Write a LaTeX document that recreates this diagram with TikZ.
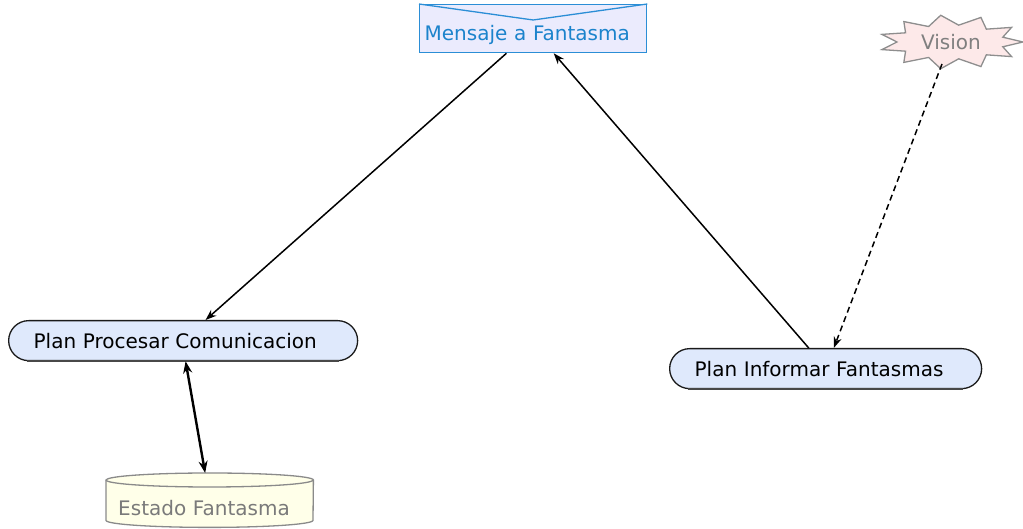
\documentclass[tikz,border=0pt]{standalone}
\usepackage{fontspec}
\setmainfont{DejaVu Sans}
\usetikzlibrary{arrows.meta,calc,backgrounds}
\definecolor{msgfill}{HTML}{EBEBFD}
\definecolor{msgline}{HTML}{2B8ED6}
\definecolor{msgtext}{HTML}{1B83CC}
\definecolor{visfill}{HTML}{FDE9E9}
\definecolor{visline}{HTML}{8E8E8E}
\definecolor{vistext}{HTML}{7F7F7F}
\definecolor{planfill}{HTML}{DFE9FC}
\definecolor{planline}{HTML}{1A1A1A}
\definecolor{estfill}{HTML}{FFFFE9}
\definecolor{estline}{HTML}{8A8A8A}
\definecolor{esttext}{HTML}{7A7A7A}
\tikzset{
  planbox/.style={draw=planline, fill=planfill, line width=1.3pt, rounded corners=20pt,
    inner xsep=25pt, inner ysep=0pt, text height=28pt, text depth=12pt,
    align=left, anchor=north west},
  msgbox/.style={draw=msgline, fill=msgfill, line width=1.3pt, text=msgtext,
    inner xsep=5pt, inner ysep=0pt, text height=36pt, text depth=12pt,
    align=left, anchor=north west},
  estbox/.style={text=esttext, inner xsep=12pt, inner ysep=0pt,
    text height=42pt, text depth=12pt, align=left, anchor=north west},
  conn/.style={line width=1.5pt, -{Stealth[length=11pt,width=8pt]}},
  bothconn/.style={line width=2.4pt, {Stealth[length=12pt,width=9pt]}-{Stealth[length=12pt,width=9pt]}},
}
\begin{document}
\begin{tikzpicture}[x=1pt, y=1pt, font=\fontsize{20}{24}\selectfont]
\useasboundingbox (0,0) rectangle (1023,529);

% message box with envelope flap
\node[msgbox, text width=217pt] (msg) at (419,525) {Mensaje a Fantasma};
\draw[msgline, line width=1.3pt] (msg.north west) -- ($(msg.north)+(0,-16)$) -- (msg.north east);

% plans
\node[planbox, text width=299pt] (ppc) at (8,209) {Plan Procesar Comunicacion};
\draw[planline!80, line width=2pt] ($(ppc.south west)+(19,0)$) -- ($(ppc.south east)+(-19,0)$);
\node[planbox, text width=262pt] (pif) at (669,181) {Plan Informar Fantasmas};
\draw[planline!80, line width=2pt] ($(pif.south west)+(19,0)$) -- ($(pif.south east)+(-19,0)$);

% belief store (cylinder)
\node[estbox, text width=183pt] (est) at (106,56) {Estado Fantasma};
\begin{pgfonlayer}{background}
  \path ($(est.north west)+(0,-7)$) coordinate (etl)
        ($(est.north east)+(0,-7)$) coordinate (etr)
        ($(est.south west)+(0,7)$) coordinate (ebl)
        ($(est.south east)+(0,7)$) coordinate (ebr);
  \draw[estline, fill=estfill, line width=1.3pt] (etl) -- (ebl)
     arc[start angle=180, end angle=360, x radius=103.5pt, y radius=7pt] -- (etr)
     arc[start angle=0, end angle=180, x radius=103.5pt, y radius=7pt] -- cycle;
  \draw[estline, line width=1.3pt] (etl) arc[start angle=180, end angle=360, x radius=103.5pt, y radius=7pt];
\end{pgfonlayer}

% percept (starburst)
\node[text=vistext, inner sep=0pt] (vis) at (951,487) {Vision};
\begin{pgfonlayer}{background}
  \draw[visline, fill=visfill, line width=1.3pt] ($(vis.center)+(72,0)$)
    \foreach \i [evaluate=\i as \rx using {ifthenelse(mod(\i,2)==0,72,54)},
                 evaluate=\i as \ry using {ifthenelse(mod(\i,2)==0,27,17)}] in {1,...,21} {
      -- ($(vis.center)+({\rx*cos(\i*360/22)},{\ry*sin(\i*360/22)})$)
    } -- cycle;
\end{pgfonlayer}

% connectors
\draw[conn] ($(msg.south west)!0.383!(msg.south east)$) -- ($(ppc.north west)!0.564!(ppc.north east)$);
\draw[conn] ($(pif.north west)!0.446!(pif.north east)$) -- ($(msg.south west)!0.590!(msg.south east)$);
\draw[conn, dash pattern=on 6pt off 4pt] ($(vis.center)+(-9,-22)$) -- ($(pif.north west)!0.526!(pif.north east)$);
\draw[bothconn] ($(ppc.south west)!0.507!(ppc.south east)$) -- ($(est.north west)!0.478!(est.north east)$);
\end{tikzpicture}
\end{document}
